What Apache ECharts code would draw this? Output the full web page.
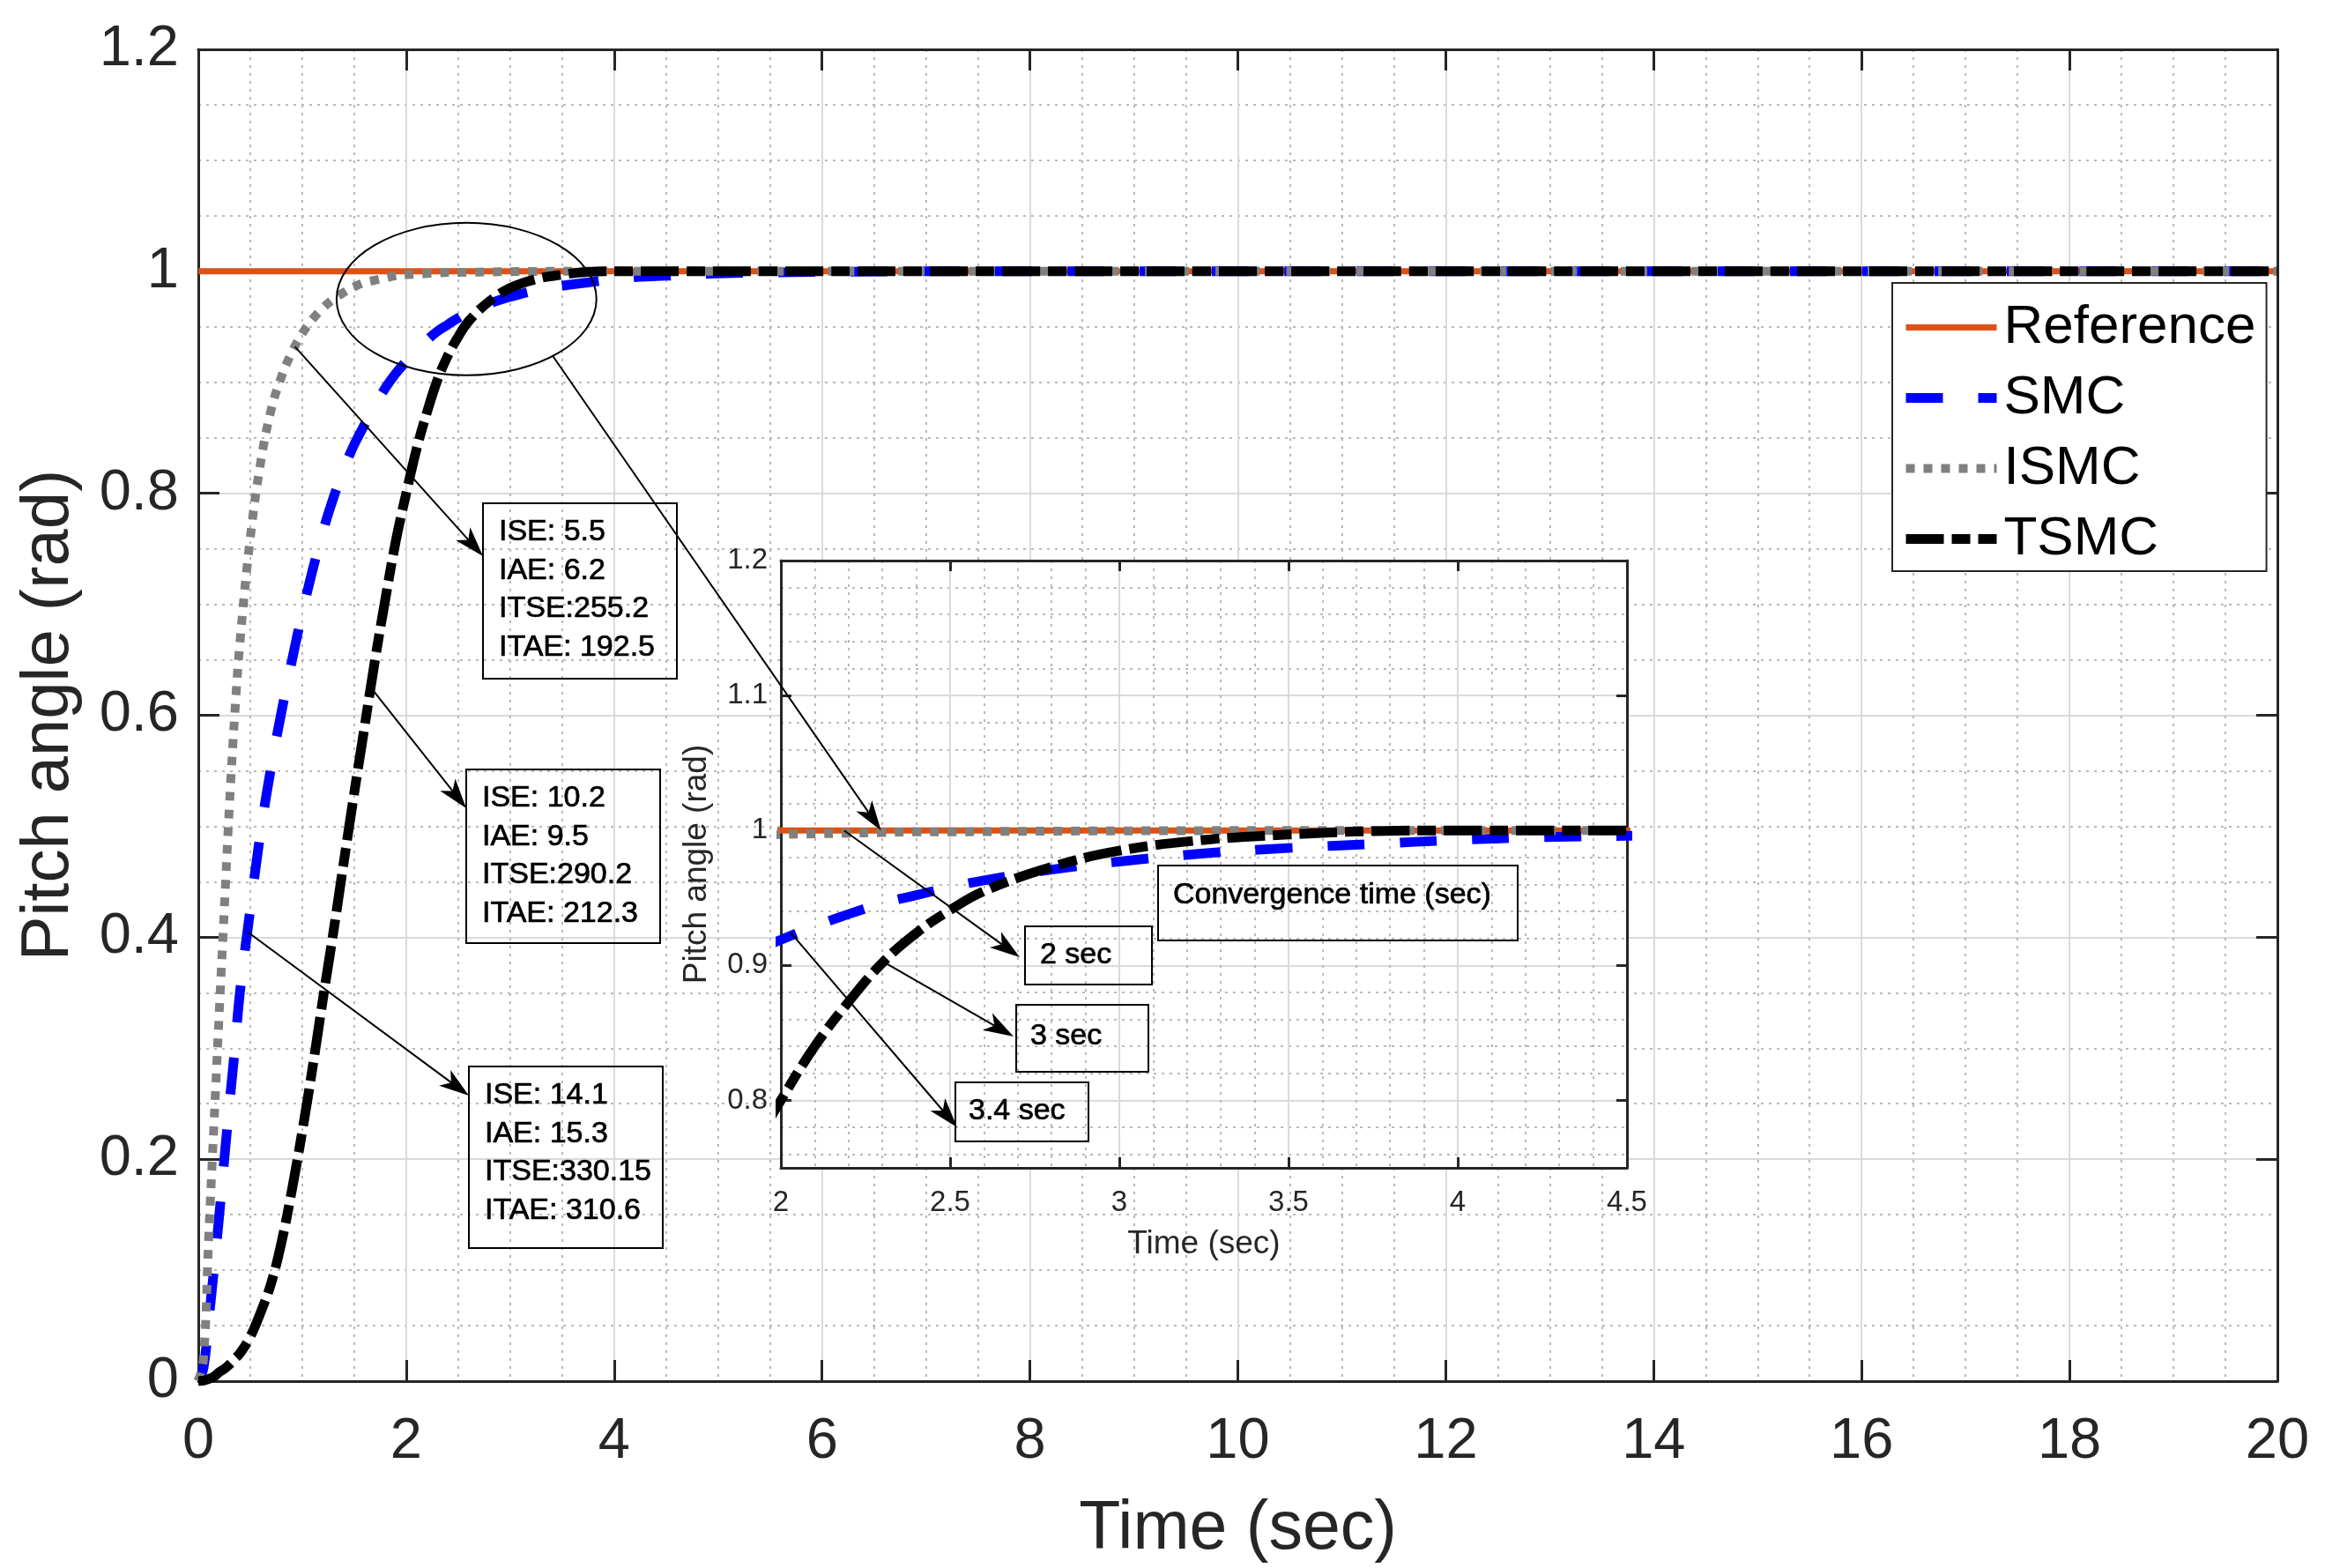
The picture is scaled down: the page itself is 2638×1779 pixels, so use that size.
<!DOCTYPE html>
<html><head><meta charset="utf-8">
<script src="https://cdn.jsdelivr.net/npm/echarts@6/dist/echarts.min.js"></script>
<style>html,body{margin:0;padding:0;background:#fff}#c{width:2638px;height:1779px}</style>
</head><body><div id="c"></div>
<script>
// ---------- data ----------
const timeSec = [0,0.05,0.1,0.15,0.2,0.25,0.3,0.35,0.4,0.5,0.6,0.7,0.8,0.9,1.0,1.1,1.2,1.3,1.4,1.5,1.6,1.7,1.8,1.9,2.0,2.1,2.2,2.3,2.4,2.5,2.6,2.8,3.0,3.25,3.5,3.75,4.0,4.25,4.5,5,5.5,6,7,8,10,12,15,20];
const smcValues = [0,0.012,0.055,0.1,0.148,0.2,0.25,0.298,0.35,0.425,0.495,0.553,0.603,0.649,0.692,0.731,0.766,0.796,0.822,0.844,0.862,0.879,0.895,0.908,0.919,0.929,0.938,0.946,0.952,0.958,0.963,0.971,0.977,0.983,0.987,0.990,0.993,0.995,0.996,0.998,0.999,0.9995,1,1,1,1,1,1];
const ismcValues = [0,0.02,0.13,0.23,0.33,0.425,0.52,0.6,0.665,0.76,0.828,0.875,0.905,0.927,0.944,0.957,0.967,0.975,0.981,0.986,0.99,0.992,0.994,0.996,0.997,0.9975,0.998,0.9985,0.999,0.999,0.9992,0.9995,0.9997,0.9999,1,1,1,1,1,1,1,1,1,1,1,1,1,1];
const tsmcValues = [0,0.0005,0.002,0.004,0.008,0.011,0.015,0.02,0.025,0.04,0.062,0.088,0.125,0.172,0.225,0.283,0.345,0.405,0.468,0.53,0.59,0.65,0.705,0.757,0.8,0.84,0.873,0.902,0.924,0.941,0.955,0.973,0.985,0.993,0.997,0.9995,1,1,1,1,1,1,1,1,1,1,1,1];
const refTime = [0, 20];
const refValues = [1, 1];
const seriesNames = ['Reference', 'SMC', 'ISMC', 'TSMC'];
const mainXTicks = [0, 20, 2];      // min, max, interval
const mainYTicks = [0, 1.2, 0.2];
const insetXTicks = [2, 4.5, 0.5];
const insetYRange = [0.75, 1.2];
const insetYMinorGrid = [0.76,0.78,0.82,0.84,0.86,0.88,0.92,0.94,0.96,0.98,1.02,1.04,1.06,1.08,1.12,1.14,1.16,1.18];
const boxTextsMain = [
  'ISE: 5.5\nIAE: 6.2\nITSE:255.2\nITAE: 192.5',
  'ISE: 10.2\nIAE: 9.5\nITSE:290.2\nITAE: 212.3',
  'ISE: 14.1\nIAE: 15.3\nITSE:330.15\nITAE: 310.6'
];
const boxTextsInset = ['Convergence time (sec)', '2 sec', '3 sec', '3.4 sec'];
// arrow start points on the curves (data coordinates)
const mainArrowFrom = [[0.93, 0.932], [1.66, 0.625], [0.47, 0.405]];
const insetArrowFrom = [[2.187, 1.0], [2.30, 0.903], [2.03, 0.924]];
const zoomCenter = [2.58, 0.975];
const zoomRadius = [1.25, 0.0687];
const insetZoomTarget = [2.296, 1.0];

// ---------- chart ----------
const FONT = 'Liberation Sans';
const AX = '#262626';
const chart = echarts.init(document.getElementById('c'));

function pairs(xs, ys) { return xs.map((t, i) => [t, ys[i]]); }
const styles = {
  Reference: { color: '#D95319', width: 7, type: 'solid' },
  SMC: { color: '#0000FF', width: 11, type: [42, 40] },
  ISMC: { color: '#808080', width: 10, type: [10, 10] },
  TSMC: { color: '#000000', width: 11, type: [43, 9, 21, 9] }
};
const dataByName = {
  Reference: pairs(refTime, refValues),
  SMC: pairs(timeSec, smcValues),
  ISMC: pairs(timeSec, ismcValues),
  TSMC: pairs(timeSec, tsmcValues)
};
function mkSeries(name, gi) {
  const s = styles[name];
  return {
    name, type: 'line', xAxisIndex: gi * 2, yAxisIndex: gi * 2,
    data: dataByName[name], symbol: 'none', showSymbol: false,
    smooth: 0.4, clip: true,
    z: gi ? 6 : 2,
    itemStyle: { color: s.color },
    lineStyle: { color: s.color, width: s.width, type: s.type, cap: 'butt', join: 'round' },
    emphasis: { disabled: true }
  };
}

const majorSplit = { show: true, lineStyle: { color: '#dadada', width: 2 } };
const minorSplit = { show: true, lineStyle: { color: '#b9b9b9', width: 2, type: [3, 6] } };

function mainAxisCommon(extra) {
  return Object.assign({
    type: 'value', gridIndex: 0,
    axisLine: { show: true, onZero: false, lineStyle: { color: AX, width: 3 } },
    axisTick: { show: true, inside: true, length: 24, lineStyle: { color: AX, width: 3 } },
    z: 1
  }, extra);
}
function insetAxisCommon(extra) {
  return Object.assign({
    type: 'value', gridIndex: 1,
    axisLine: { show: true, onZero: false, lineStyle: { color: AX, width: 3 } },
    axisTick: { show: true, inside: true, length: 12, lineStyle: { color: AX, width: 3 } },
    z: 5
  }, extra);
}

const option = {
  animation: false,
  backgroundColor: '#ffffff',
  grid: [
    { left: 225, top: 56, right: 54, bottom: 205, show: true, backgroundColor: '#fff', borderWidth: 0, z: 0 },
    { left: 886, top: 636, right: 792, bottom: 454, show: true, backgroundColor: '#fff', borderWidth: 0, z: 4 }
  ],
  legend: {
    data: seriesNames, orient: 'vertical', left: 2147, top: 321,
    itemWidth: 103, itemHeight: 14, itemGap: 7,
    padding: [14, 12, 0, 10],
    backgroundColor: '#fff', borderColor: AX, borderWidth: 2, borderRadius: 0,
    selectedMode: false,
    itemStyle: { opacity: 0 },
    lineStyle: { width: 'inherit', type: 'inherit', cap: 'butt' },
    textStyle: { fontFamily: FONT, fontSize: 62, color: '#000', lineHeight: 73, padding: [0, 0, 0, 3] },
    z: 10
  },
  xAxis: [
    mainAxisCommon({
      min: mainXTicks[0], max: mainXTicks[1], interval: mainXTicks[2], position: 'bottom',
      name: 'Time (sec)', nameLocation: 'middle', nameGap: 130,
      nameTextStyle: { fontFamily: FONT, fontSize: 77, color: AX },
      axisLabel: { show: true, margin: 37, fontFamily: FONT, fontSize: 65, color: AX },
      splitLine: majorSplit, minorTick: { show: false, splitNumber: 4 }, minorSplitLine: minorSplit
    }),
    mainAxisCommon({
      min: mainXTicks[0], max: mainXTicks[1], interval: mainXTicks[2], position: 'top',
      axisLabel: { show: false }, splitLine: { show: false }
    }),
    insetAxisCommon({
      min: insetXTicks[0], max: insetXTicks[1], interval: insetXTicks[2], position: 'bottom',
      name: 'Time (sec)', nameLocation: 'middle', nameGap: 68,
      nameTextStyle: { fontFamily: FONT, fontSize: 37, color: AX },
      axisLabel: { show: true, margin: 23, fontFamily: FONT, fontSize: 33, color: AX },
      splitLine: majorSplit, minorTick: { show: false, splitNumber: 5 }, minorSplitLine: minorSplit
    }),
    insetAxisCommon({
      min: insetXTicks[0], max: insetXTicks[1], interval: insetXTicks[2], position: 'top',
      axisLabel: { show: false }, splitLine: { show: false }
    })
  ],
  yAxis: [
    mainAxisCommon({
      min: mainYTicks[0], max: mainYTicks[1], interval: mainYTicks[2], position: 'left',
      name: 'Pitch angle (rad)', nameLocation: 'middle', nameGap: 131,
      nameTextStyle: { fontFamily: FONT, fontSize: 76, color: AX },
      axisLabel: { show: true, margin: 22, fontFamily: FONT, fontSize: 65, color: AX },
      splitLine: majorSplit, minorTick: { show: false, splitNumber: 4 }, minorSplitLine: minorSplit
    }),
    mainAxisCommon({
      min: mainYTicks[0], max: mainYTicks[1], interval: mainYTicks[2], position: 'right',
      axisLabel: { show: false }, splitLine: { show: false }
    }),
    insetAxisCommon({
      min: insetYRange[0], max: insetYRange[1], position: 'left',
      name: 'Pitch angle (rad)', nameLocation: 'middle', nameGap: 77,
      nameTextStyle: { fontFamily: FONT, fontSize: 37, color: AX },
      axisLabel: { show: true, margin: 15, fontFamily: FONT, fontSize: 33, color: AX, showMinLabel: false },
      splitLine: majorSplit
    }),
    insetAxisCommon({
      min: insetYRange[0], max: insetYRange[1], position: 'right',
      axisLabel: { show: false }, splitLine: { show: false }
    }),
    // helper axis carrying only the inset's minor (dotted) horizontal grid
    {
      type: 'value', gridIndex: 1, position: 'left', min: insetYRange[0], max: insetYRange[1], z: 4,
      axisLine: { show: false }, axisLabel: { show: false },
      axisTick: { show: false, customValues: insetYMinorGrid },
      splitLine: minorSplit
    }
  ],
  series: [
    ...seriesNames.map(n => mkSeries(n, 0)),
    ...seriesNames.map(n => mkSeries(n, 1))
  ]
};
chart.setOption(option);

// ---------- annotations (arrows, ellipse, text boxes) ----------
function px(gi, p) { return chart.convertToPixel({ gridIndex: gi }, p); }
function arrow(p0, p1) {
  const dx = p1[0] - p0[0], dy = p1[1] - p0[1], L = Math.hypot(dx, dy);
  const ux = dx / L, uy = dy / L, nx = -uy, ny = ux;
  const hl = 34, hw = 11, nb = 9;
  const base = [p1[0] - ux * hl, p1[1] - uy * hl];
  const notch = [p1[0] - ux * (hl - nb), p1[1] - uy * (hl - nb)];
  return [
    { type: 'line', silent: true, z: 50, shape: { x1: p0[0], y1: p0[1], x2: notch[0], y2: notch[1] }, style: { stroke: '#000', lineWidth: 2 } },
    { type: 'polygon', silent: true, z: 51, shape: { points: [p1, [base[0] + nx * hw, base[1] + ny * hw], notch, [base[0] - nx * hw, base[1] - ny * hw]] }, style: { fill: '#000' } }
  ];
}
function box(x, y, w, h, text, tx, ty, lh) {
  return [
    { type: 'rect', silent: true, z: 50, shape: { x, y, width: w, height: h }, style: { fill: null, stroke: '#000', lineWidth: 2 } },
    { type: 'text', silent: true, z: 52, x: tx, y: ty, style: { text, fontFamily: FONT, fontSize: 34, fill: '#000', stroke: '#000', lineWidth: 0.7, lineHeight: lh, verticalAlign: 'top', align: 'left' } }
  ];
}

const g = [];
// zoom ellipse
const c = px(0, zoomCenter);
const e1 = px(0, [zoomCenter[0] + zoomRadius[0], zoomCenter[1] + zoomRadius[1]]);
const rx = Math.abs(e1[0] - c[0]), ry = Math.abs(e1[1] - c[1]);
g.push({ type: 'ellipse', silent: true, z: 50, shape: { cx: c[0], cy: c[1], rx, ry }, style: { fill: null, stroke: '#000', lineWidth: 2 } });
const ang = 0.844; // point on the lower-right of the ellipse
g.push(...arrow([c[0] + rx * Math.cos(ang), c[1] + ry * Math.sin(ang)], px(1, insetZoomTarget)));

// main boxes and arrows
const mainBoxes = [[548, 571, 220, 199], [529, 873, 220, 197], [532, 1210, 220, 206]];
const mainTips = [[548, 631], [529, 917], [532, 1243]];
mainBoxes.forEach((b, i) => {
  g.push(...box(b[0], b[1], b[2], b[3], boxTextsMain[i], b[0] + 18, b[1] + 11, 43.5));
  g.push(...arrow(px(0, mainArrowFrom[i]), mainTips[i]));
});

// inset boxes and arrows
const insetBoxes = [[1314, 982, 408, 85], [1163, 1051, 144, 66], [1153, 1140, 150, 76], [1084, 1228, 151, 67]];
const insetTextOffset = [[17, 15], [17, 14], [16, 17], [15, 14]];
insetBoxes.forEach((b, i) => {
  g.push(...box(b[0], b[1], b[2], b[3], boxTextsInset[i], b[0] + insetTextOffset[i][0], b[1] + insetTextOffset[i][1], 38));
});
const insetTips = [[1157, 1086], [1150, 1176], [1086, 1279]];
insetArrowFrom.forEach((p, i) => g.push(...arrow(px(1, p), insetTips[i])));

chart.setOption({ graphic: { elements: g } });
</script>
</body></html>
